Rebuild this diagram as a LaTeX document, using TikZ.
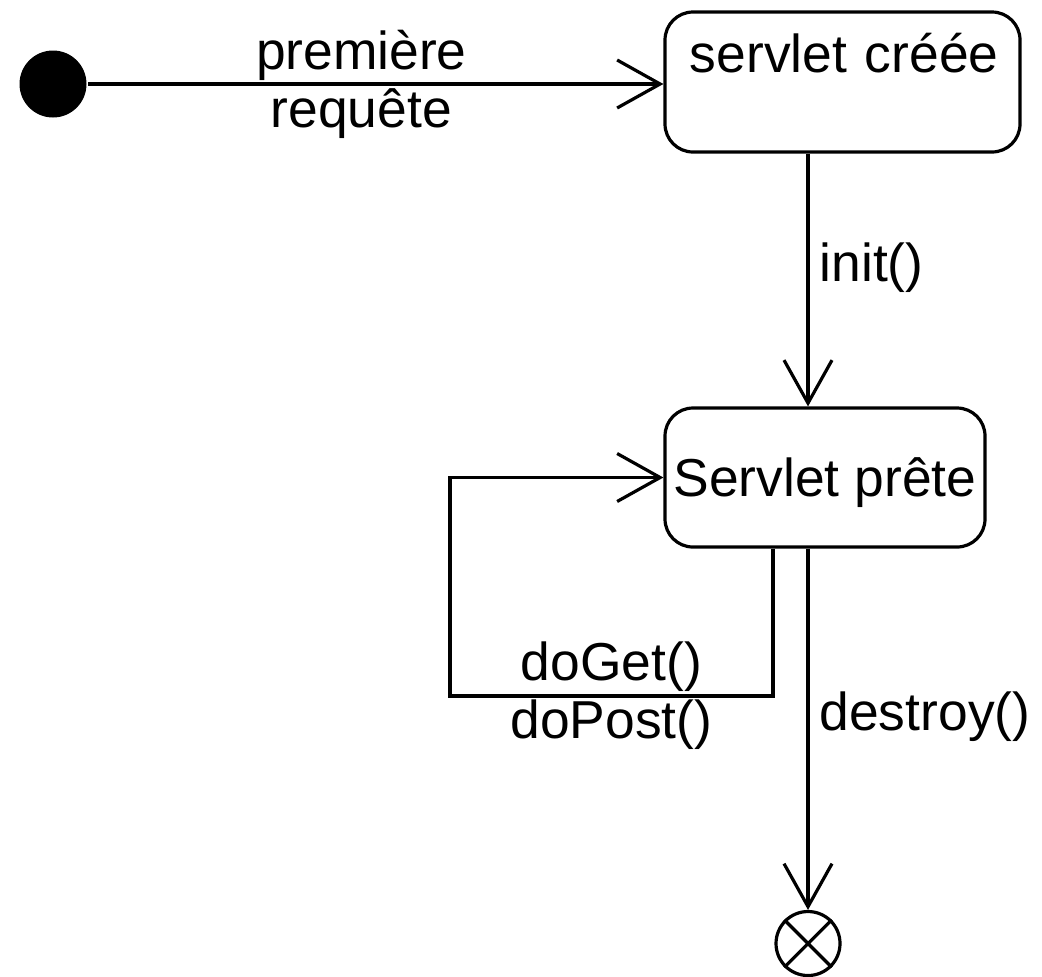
\documentclass[tikz,border=0pt]{standalone}
\usepackage{fontspec}
\setmainfont{Liberation Sans}
\usetikzlibrary{arrows.meta, positioning, shapes}

\begin{document}
\begin{tikzpicture}[x=0.5pt, y=-0.5pt, line width=1.6pt,
	every node/.style={font=\fontsize{26.7}{29}\selectfont},
	etat/.style={draw, rounded corners=14pt, inner sep=2pt, text height=18.5pt},
	trans/.style={-{Straight Barb[length=21.5pt, width=24pt]}},
	label droite/.style={right, inner sep=5pt}]

\def \etatw{177.5pt}
\def \etath{70pt}
\def \rond{33.5pt}

\useasboundingbox (0,0) rectangle (1042,976); % page

\node[circle, fill, minimum size=\rond, inner sep=0pt] (debut) at (53,84) {}; % etat initial
\node[etat, minimum width=\etatw, minimum height=\etath, text depth=28.5pt, text width=156pt, align=right] (creee) at (842.5,82) {servlet créée};
\node[etat, minimum width=160pt, minimum height=69.5pt, text depth=0pt] (prete) at (825,477.5) {Servlet prête};
\node[circle, draw, minimum size=32pt, inner sep=0pt] (fin) at (808,943.5) {}; % etat final
\draw (fin.north west) -- (fin.south east) (fin.north east) -- (fin.south west);

\coordinate (boucle) at (450,696);

\draw[trans] (debut) -- node[pos=0.475, align=center] {première\\requête} (debut -| creee.west);
\draw[trans] (creee.south -| fin) -- node[pos=0.45, label droite] {init()} (prete.north -| fin);
\draw[trans] ([xshift=-26pt]prete.south) |- node[pos=0.75, align=center] {doGet()\\doPost()} (boucle) |- (prete.west); % requetes
\draw[trans] (prete.south -| fin) -- node[pos=0.466, label droite] {destroy()} (fin);

\end{tikzpicture}
\end{document}
